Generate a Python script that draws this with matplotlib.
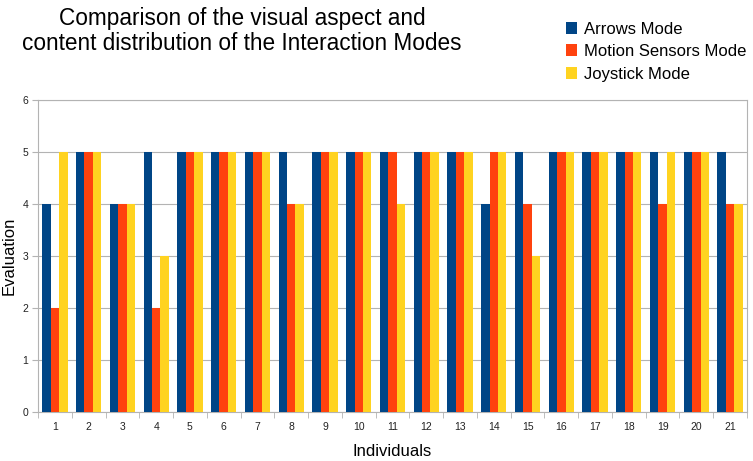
import matplotlib
matplotlib.use("Agg")
import matplotlib.pyplot as plt
import numpy as np
from matplotlib.patches import Patch

plt.rcParams['font.family'] = ['Liberation Sans', 'DejaVu Sans']

individuals = [str(i) for i in range(1, 22)]
arrows_mode = [4, 5, 4, 5, 5, 5, 5, 5, 5, 5, 5, 5, 5, 4, 5, 5, 5, 5, 5, 5, 5]
motion_sensors_mode = [2, 5, 4, 2, 5, 5, 5, 4, 5, 5, 5, 5, 5, 5, 4, 5, 5, 5, 4, 5, 4]
joystick_mode = [5, 5, 4, 3, 5, 5, 5, 4, 5, 5, 4, 5, 5, 5, 3, 5, 5, 5, 5, 5, 4]

series = [
    ("Arrows Mode", arrows_mode, "#004586"),
    ("Motion Sensors Mode", motion_sensors_mode, "#ff420e"),
    ("Joystick Mode", joystick_mode, "#ffd320"),
]

fig = plt.figure(figsize=(7.53, 4.61), dpi=100)
ax = fig.add_axes([38 / 753, 49 / 461, (747 - 38) / 753, (412 - 100) / 461])

x = np.arange(len(individuals))
w = 0.25
for k, (name, vals, col) in enumerate(series):
    ax.bar(x + (k - 1) * w, vals, width=w, color=col, label=name, zorder=3)

ax.set_xlim(-0.5, len(individuals) - 0.5)
ax.set_ylim(0, 6)
ax.set_yticks(range(0, 7))
ax.set_xticks(x)
ax.set_xticklabels(individuals)
ax.set_xticks(np.arange(-0.5, len(individuals)), minor=True)

grid_col = "#b3b3b3"
ax.yaxis.grid(True, color=grid_col, linewidth=0.8, zorder=0)
for s in ax.spines.values():
    s.set_color(grid_col)
    s.set_linewidth(0.8)

ax.tick_params(axis='x', which='major', length=0, labelsize=7.5, pad=7, colors='#222222')
ax.tick_params(axis='x', which='minor', length=4, color=grid_col, direction='out')
ax.tick_params(axis='y', which='major', length=4, color=grid_col, labelsize=7.5, pad=3, labelcolor='#222222')

ax.set_ylabel("Evaluation", fontsize=12)
ax.yaxis.set_label_coords(-21 / 709, 0.5)
ax.set_xlabel("Individuals", fontsize=12, labelpad=9)

fig.text(242 / 753, 1 - 31 / 461, "Comparison of the visual aspect and\ncontent distribution of the Interaction Modes",
         ha='center', va='center', fontsize=16.3, linespacing=1.1)

handles = [Patch(facecolor=c, edgecolor='none', label=n) for n, _, c in series]
fig.legend(handles=handles, loc='upper left', bbox_to_anchor=(559 / 753, 1 - 15 / 461),
           frameon=False, fontsize=12.0, handlelength=0.7, handleheight=0.7,
           handletextpad=0.4, labelspacing=0.45, borderaxespad=0)

fig.savefig("out.png", dpi=100)
